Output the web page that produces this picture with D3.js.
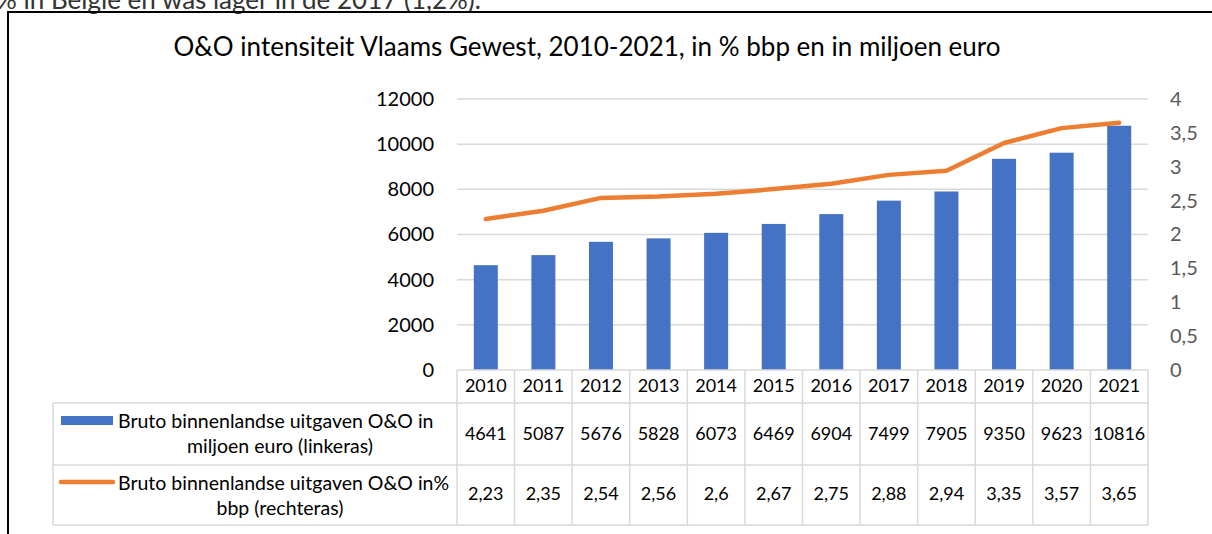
<!DOCTYPE html>
<html>
<head>
<meta charset="utf-8">
<script src="https://cdn.jsdelivr.net/npm/d3@7"></script>
<style>
  body { margin: 0; background: #fff; }
  svg { display: block; font-family: Lato, "Open Sans", sans-serif; }
</style>
</head>
<body>
<svg></svg>
<script>
const years = ["2010", "2011", "2012", "2013", "2014", "2015", "2016", "2017", "2018", "2019", "2020", "2021"];
const uitgaven = [4641, 5087, 5676, 5828, 6073, 6469, 6904, 7499, 7905, 9350, 9623, 10816];
const intensiteit = [2.23, 2.35, 2.54, 2.56, 2.6, 2.67, 2.75, 2.88, 2.94, 3.35, 3.57, 3.65];
const leftTicks = [0, 2000, 4000, 6000, 8000, 10000, 12000];
const rightTicks = [0, 0.5, 1, 1.5, 2, 2.5, 3, 3.5, 4];
const seriesNames = [
  ["Bruto binnenlandse uitgaven O&O in", "miljoen euro (linkeras)"],
  ["Bruto binnenlandse uitgaven O&O in%", "bbp (rechteras)"],
];

const width = 1212;
const height = 534;
const blue = "#4472C4";
const orange = "#ED7D31";
const grid = "#d9d9d9";

const svg = d3.select("svg").attr("width", width).attr("height", height);

// decimal comma, like the source
const fmt = (v) => String(v).replace(".", ",");

// line of body text above the chart (cut off at the top, as in the source)
svg.append("text")
  .attr("x", -4).attr("y", 9)
  .attr("font-size", 26)
  .attr("fill", "#333")
  .text("% in België en was lager in de 2017 (1,2%).");

// chart frame
svg.append("path")
  .attr("d", `M8,${height} V12 H${width}`)
  .attr("fill", "none")
  .attr("stroke", "#000")
  .attr("stroke-width", 2);

svg.append("text")
  .attr("x", 587).attr("y", 56)
  .attr("text-anchor", "middle")
  .attr("font-size", 26)
  .attr("fill", "#000")
  .text("O&O intensiteit Vlaams Gewest, 2010-2021, in % bbp en in miljoen euro");

const x = d3.scaleBand().domain(years).range([457, 1148]);
const yL = d3.scaleLinear().domain([0, 12000]).range([370, 99]);
const yR = d3.scaleLinear().domain([0, 4]).range([370, 99]);

// gridlines
svg.append("g")
  .selectAll("line")
  .data(leftTicks.slice(1))
  .join("line")
  .attr("x1", 457).attr("x2", 1148)
  .attr("y1", (d) => yL(d)).attr("y2", (d) => yL(d))
  .attr("stroke", grid)
  .attr("stroke-width", 1.5);

// left axis
const axL = svg.append("g")
  .attr("transform", "translate(434,0)")
  .call(d3.axisLeft(yL).tickValues(leftTicks).tickSize(0).tickPadding(0).tickFormat((d) => d));
axL.select(".domain").remove();
axL.selectAll("text")
  .attr("font-family", "Lato, sans-serif")
  .attr("font-size", 20)
  .attr("fill", "#000");

// right axis
const axR = svg.append("g")
  .attr("transform", "translate(1170,0)")
  .call(d3.axisRight(yR).tickValues(rightTicks).tickSize(0).tickPadding(0).tickFormat(fmt));
axR.select(".domain").remove();
axR.selectAll("text")
  .attr("font-family", "Lato, sans-serif")
  .attr("font-size", 20)
  .attr("fill", "#595959");

// bars
const barW = 24;
svg.append("g")
  .selectAll("rect")
  .data(uitgaven)
  .join("rect")
  .attr("x", (d, i) => x(years[i]) + x.bandwidth() / 2 - barW / 2)
  .attr("width", barW)
  .attr("y", (d) => yL(d))
  .attr("height", (d) => yL(0) - yL(d))
  .attr("fill", blue);

// line
const line = d3.line()
  .x((d, i) => x(years[i]) + x.bandwidth() / 2)
  .y((d) => yR(d));

svg.append("path")
  .datum(intensiteit)
  .attr("d", line)
  .attr("fill", "none")
  .attr("stroke", orange)
  .attr("stroke-width", 4.5)
  .attr("stroke-linecap", "round")
  .attr("stroke-linejoin", "round");

// data table
const rowTop = [370, 403, 465];
const labelLeft = 53;
const tbl = svg.append("g");

tbl.append("line").attr("x1", 457).attr("x2", 1148).attr("y1", 370).attr("y2", 370);
tbl.append("line").attr("x1", labelLeft).attr("x2", 1148).attr("y1", 403).attr("y2", 403);
tbl.append("line").attr("x1", labelLeft).attr("x2", 1148).attr("y1", 465).attr("y2", 465);
tbl.append("line").attr("x1", labelLeft).attr("x2", 1148).attr("y1", 525).attr("y2", 525);
tbl.append("line").attr("x1", labelLeft).attr("x2", labelLeft).attr("y1", 403).attr("y2", 525);
tbl.selectAll(".vline")
  .data(years.concat(["end"]))
  .join("line")
  .attr("class", "vline")
  .attr("x1", (d, i) => (i < years.length ? x(d) : x.range()[1]))
  .attr("x2", (d, i) => (i < years.length ? x(d) : x.range()[1]))
  .attr("y1", 370).attr("y2", 525);
tbl.selectAll("line").attr("stroke", grid).attr("stroke-width", 1.5);

const cellText = (vals, yMid) =>
  tbl.append("g")
    .selectAll("text")
    .data(vals)
    .join("text")
    .attr("x", (d, i) => x(years[i]) + x.bandwidth() / 2)
    .attr("y", yMid)
    .attr("dy", "0.35em")
    .attr("text-anchor", "middle")
    .attr("font-size", 18)
    .attr("fill", "#000")
    .text((d) => d);

cellText(years, 386);
cellText(uitgaven, 434);
cellText(intensiteit.map(fmt), 494);

// legend keys in the table
tbl.append("rect")
  .attr("x", 61).attr("y", 416).attr("width", 52).attr("height", 9)
  .attr("fill", blue);
tbl.append("line")
  .attr("x1", 61).attr("x2", 113).attr("y1", 482).attr("y2", 482)
  .attr("stroke", orange).attr("stroke-width", 4.5).attr("stroke-linecap", "round");

seriesNames.forEach((lines, r) => {
  const t = rowTop[r + 1];
  tbl.append("text")
    .attr("x", 118).attr("y", t + 25)
    .attr("font-size", 19.5).attr("fill", "#000")
    .text(lines[0]);
  tbl.append("text")
    .attr("x", 280).attr("y", t + 50)
    .attr("text-anchor", "middle")
    .attr("font-size", 19.5).attr("fill", "#000")
    .text(lines[1]);
});
</script>
</body>
</html>
